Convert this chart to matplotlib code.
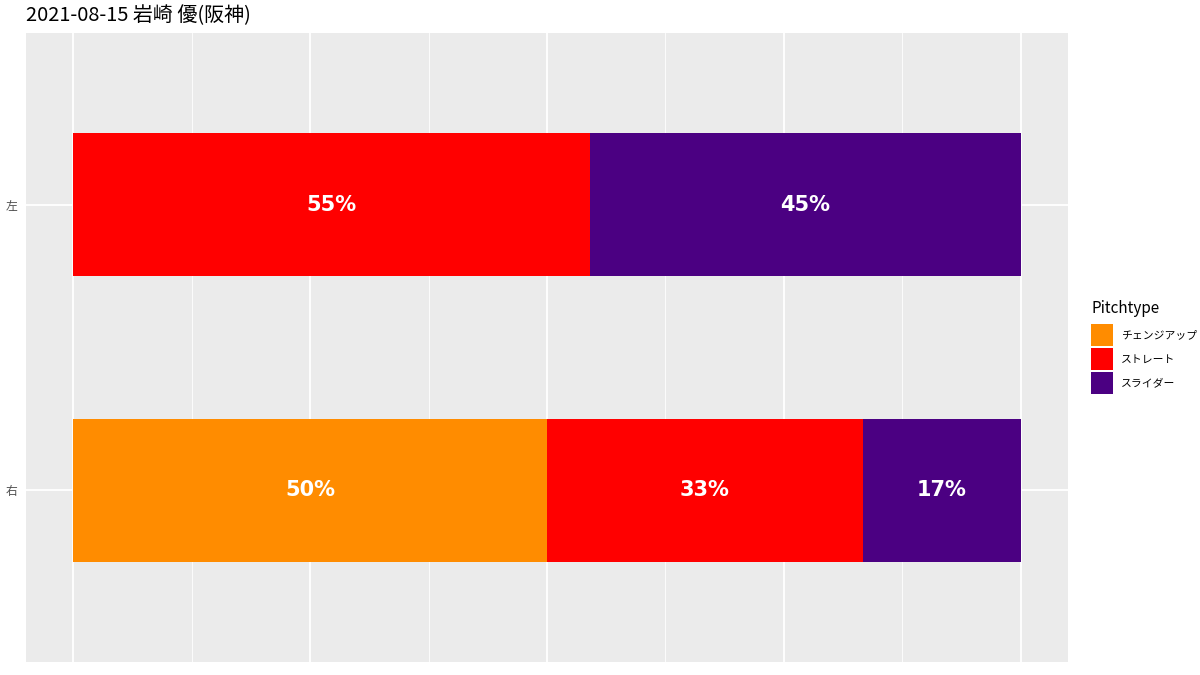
import matplotlib
matplotlib.use("Agg")
import matplotlib.pyplot as plt
from matplotlib.patches import Patch
import numpy as np

plt.rcParams['font.family'] = ['Noto Sans CJK JP', 'DejaVu Sans']

title = "2021-08-15 岩崎 優(阪神)"
batter_sides = ["右", "左"]          # bottom to top
pitch_types = ["チェンジアップ", "ストレート", "スライダー"]
colors = ["#FF8C00", "#FF0000", "#4B0082"]
# pitch counts per batter side, per pitch type
counts_right = [3, 2, 1]
counts_left = [0, 6, 5]

counts = np.array([counts_right, counts_left], dtype=float)
shares = counts / counts.sum(axis=1, keepdims=True)

fig = plt.figure(figsize=(12, 6.75), dpi=100)
ax = fig.add_axes([26/1200, 13/675, (1068-26)/1200, (662-33)/675])
ax.set_facecolor("#EBEBEB")
for s in ax.spines.values():
    s.set_visible(False)

ax.set_xlim(-0.05, 1.05)
ax.set_ylim(0.4, 2.6)
ypos = np.arange(1, len(batter_sides) + 1)

# grid
ax.set_xticks([0, 0.25, 0.5, 0.75, 1.0])
ax.set_xticks([0.125, 0.375, 0.625, 0.875], minor=True)
ax.grid(True, which='major', color='white', linewidth=1.3)
ax.grid(True, which='minor', axis='x', color='white', linewidth=0.6)
ax.set_axisbelow(True)
ax.tick_params(axis='x', which='both', length=0, labelbottom=False)

ax.set_yticks(ypos)
ax.set_yticklabels(batter_sides, fontsize=8.5, color='#4D4D4D')
ax.tick_params(axis='y', length=0, pad=6)

left = np.zeros(len(batter_sides))
for j, (pt, c) in enumerate(zip(pitch_types, colors)):
    w = shares[:, j]
    ax.barh(ypos, w, left=left, height=0.5, color=c, edgecolor='none')
    for i in range(len(batter_sides)):
        if w[i] > 0:
            ax.text(left[i] + w[i] / 2, ypos[i], f"{round(w[i]*100):.0f}%",
                    ha='center', va='center', color='white',
                    fontsize=15, fontweight='bold', family=['DejaVu Sans'])
    left = left + w

fig.text(26/1200, 1 - 16/675, title, fontsize=14.4, ha='left', va='center')

handles = [Patch(facecolor=c, edgecolor='none') for c in colors]
leg = fig.legend(handles, pitch_types, loc='upper left',
                 bbox_to_anchor=(1088/1200, 1 - 297/675),
                 title="Pitchtype", title_fontsize=11, fontsize=7.8,
                 frameon=False, handlelength=2.0, handleheight=2.7,
                 handletextpad=0.75, labelspacing=0.22, borderaxespad=0,
                 borderpad=0.3)
leg._legend_box.align = "left"
leg._legend_box.sep = 5

fig.savefig("out.png", dpi=100)
